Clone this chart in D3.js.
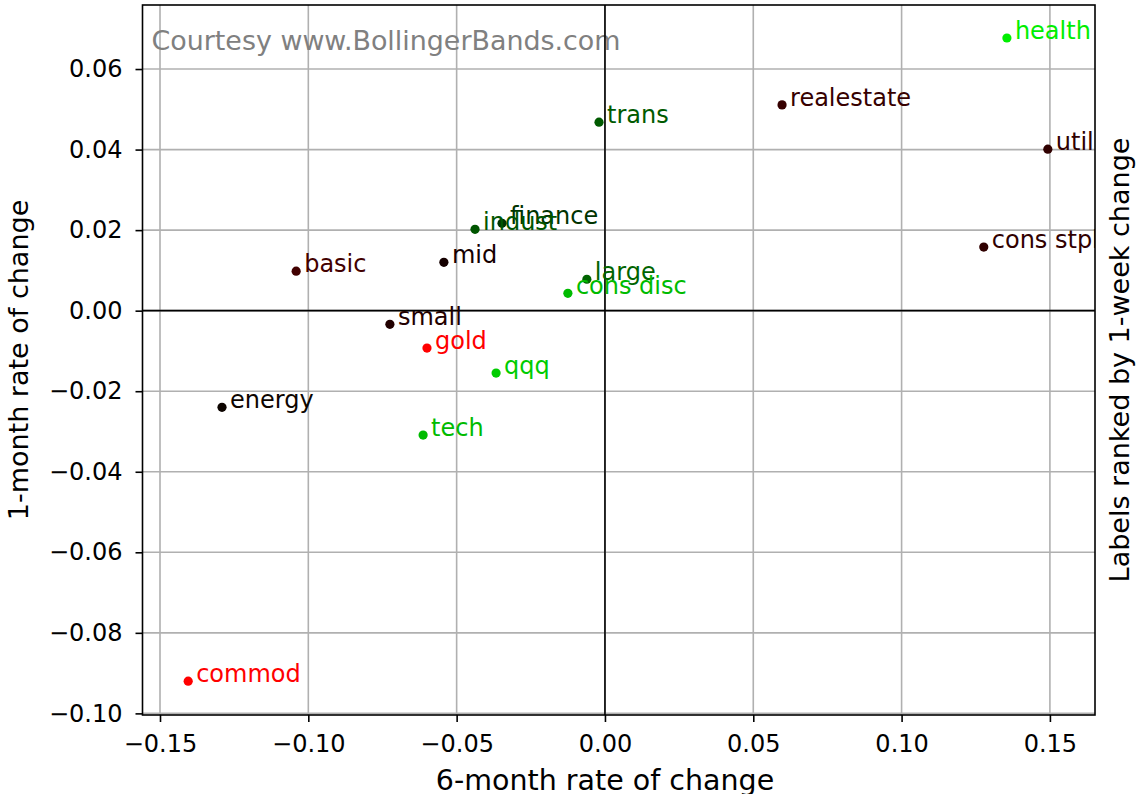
<!DOCTYPE html>
<html>
<head>
<meta charset="utf-8">
<script src="https://cdn.jsdelivr.net/npm/d3@7"></script>
<style>
  body { margin: 0; background: #fff; }
  text { font-family: "DejaVu Sans", sans-serif; }
</style>
</head>
<body>
<div id="graf"></div>
<script>
const anchoTotal = 1138
const altoTotal = 794
const margins = { left: 142.5, top: 5, right: 43, bottom: 79 }
const ancho = anchoTotal - margins.left - margins.right
const alto = altoTotal - margins.top - margins.bottom

// Data
const etiquetas = ["health", "realestate", "util", "trans", "finance", "indust", "mid", "basic",
  "cons stpl", "large", "cons disc", "small", "gold", "qqq", "energy", "tech", "commod"]
const seisMeses = [0.1355, 0.0597, 0.1493, -0.0020, -0.0347, -0.0438, -0.0543, -0.1041,
  0.1277, -0.0061, -0.0125, -0.0725, -0.0600, -0.0367, -0.1291, -0.0613, -0.1405]
const unMes = [0.0677, 0.0511, 0.0401, 0.0468, 0.0217, 0.0202, 0.0120, 0.0098,
  0.0158, 0.0078, 0.0043, -0.0034, -0.0093, -0.0155, -0.0240, -0.0309, -0.0920]
const colores = ["#00ee00", "#360000", "#300000", "#005a00", "#003300", "#005500", "#150000", "#420000",
  "#300000", "#006400", "#00bb00", "#220000", "#ff0000", "#00cc00", "#0d0500", "#00bb00", "#ff0000"]
const xTicks = [-0.15, -0.10, -0.05, 0.00, 0.05, 0.10, 0.15]
const yTicks = [-0.10, -0.08, -0.06, -0.04, -0.02, 0.00, 0.02, 0.04, 0.06]

const data = etiquetas.map((d, i) => ({ label: d, x: seisMeses[i], y: unMes[i], color: colores[i] }))

const svg = d3.select("#graf")
  .append("svg")
  .attr("width", anchoTotal)
  .attr("height", altoTotal)

const g = svg.append("g")
  .attr("transform", `translate(${margins.left}, ${margins.top})`)

// Escaladores
const x = d3.scaleLinear().domain([-0.1559, 0.1652]).range([0, ancho])
const y = d3.scaleLinear().domain([-0.1004, 0.0759]).range([alto, 0])

svg.append("defs").append("clipPath").attr("id", "clip")
  .append("rect").attr("width", ancho).attr("height", alto)

// grid
g.append("g").selectAll("line").data(xTicks).join("line")
  .attr("x1", d => x(d)).attr("x2", d => x(d))
  .attr("y1", 0).attr("y2", alto)
  .attr("stroke", "#b0b0b0").attr("stroke-width", 1.6)
g.append("g").selectAll("line").data(yTicks).join("line")
  .attr("y1", d => y(d)).attr("y2", d => y(d))
  .attr("x1", 0).attr("x2", ancho)
  .attr("stroke", "#b0b0b0").attr("stroke-width", 1.6)

g.append("text")
  .attr("x", 9).attr("y", 45)
  .attr("fill", "#808080")
  .style("font-size", "26.9px")
  .text("Courtesy www.BollingerBands.com")

// lineas cero
g.append("line").attr("x1", x(0)).attr("x2", x(0)).attr("y1", 0).attr("y2", alto)
  .attr("stroke", "#000").attr("stroke-width", 1.6)
g.append("line").attr("y1", y(0)).attr("y2", y(0)).attr("x1", 0).attr("x2", ancho)
  .attr("stroke", "#000").attr("stroke-width", 1.6)

// puntos
const pts = g.append("g").attr("clip-path", "url(#clip)")
pts.selectAll("circle").data(data).join("circle")
  .attr("cx", d => x(d.x)).attr("cy", d => y(d.y))
  .attr("r", 4.6)
  .attr("fill", d => d.color)
pts.selectAll("text").data(data).join("text")
  .attr("x", d => x(d.x) + 8).attr("y", d => y(d.y) + 1)
  .attr("fill", d => d.color)
  .style("font-size", "24px")
  .text(d => d.label)

// Ejes
const fmt = d3.format(".2f")
const xAxis = d3.axisBottom(x).tickValues(xTicks).tickFormat(fmt).tickSize(7).tickPadding(13)
const yAxis = d3.axisLeft(y).tickValues(yTicks).tickFormat(fmt).tickSize(7).tickPadding(13)

const xg = g.append("g").attr("transform", `translate(0, ${alto})`).call(xAxis)
const yg = g.append("g").call(yAxis)
;[xg, yg].forEach(a => {
  a.select(".domain").remove()
  a.selectAll("line").attr("stroke", "#000").attr("stroke-width", 1.6)
  a.selectAll("text").style("font-size", "24px").attr("fill", "#000").style("font-family", "DejaVu Sans")
})

g.append("rect").attr("width", ancho).attr("height", alto)
  .attr("fill", "none").attr("stroke", "#000").attr("stroke-width", 1.6)

// titulos
svg.append("text")
  .attr("x", 605).attr("y", 790)
  .attr("text-anchor", "middle")
  .style("font-size", "28.5px")
  .text("6-month rate of change")
svg.append("text")
  .attr("transform", `translate(28, 360) rotate(-90)`)
  .attr("text-anchor", "middle")
  .style("font-size", "27px")
  .text("1-month rate of change")
svg.append("text")
  .attr("transform", `translate(1129, 360) rotate(-90)`)
  .attr("text-anchor", "middle")
  .style("font-size", "27px")
  .text("Labels ranked by 1-week change")
</script>
</body>
</html>
